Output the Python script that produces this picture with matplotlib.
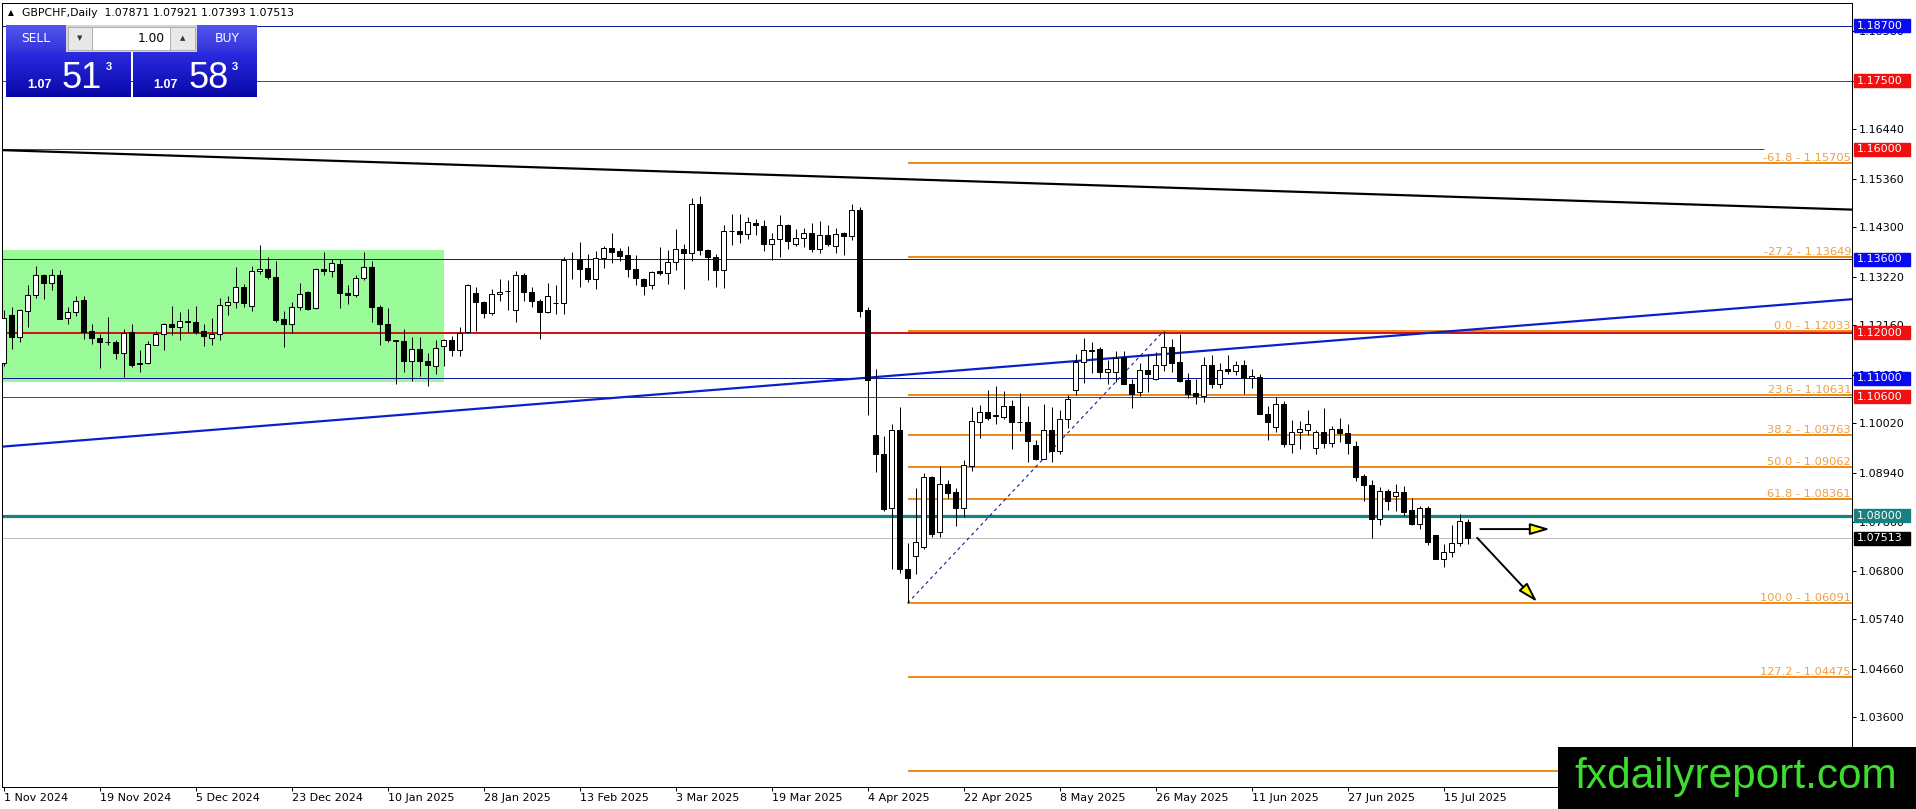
import numpy as np
import matplotlib
matplotlib.use("Agg")
import matplotlib.pyplot as plt
from matplotlib.patches import Rectangle

# GBPCHF daily candles, 1 Nov 2024 .. 18 Jul 2025
opens = [
    1.1133, 1.1239, 1.1190, 1.1247, 1.1282, 1.1326, 1.1308, 1.1325, 1.1232, 1.1245,
    1.1271, 1.1204, 1.1188, 1.1180, 1.1180, 1.1155, 1.1201, 1.1134, 1.1133, 1.1173,
    1.1197, 1.1218, 1.1212, 1.1226, 1.1224, 1.1203, 1.1188, 1.1197, 1.1261, 1.1266,
    1.1300, 1.1259, 1.1334, 1.1339, 1.1322, 1.1230, 1.1219, 1.1255, 1.1288, 1.1254,
    1.1339, 1.1335, 1.1350, 1.1287, 1.1282, 1.1319, 1.1344, 1.1257, 1.1219, 1.1183,
    1.1181, 1.1137, 1.1164, 1.1139, 1.1128, 1.1170, 1.1184, 1.1161, 1.1201, 1.1287,
    1.1266, 1.1243, 1.1284, 1.1290, 1.1250, 1.1326, 1.1288, 1.1270, 1.1244, 1.1264,
    1.1264, 1.1360, 1.1361, 1.1341, 1.1317, 1.1363, 1.1385, 1.1379, 1.1370, 1.1339,
    1.1317, 1.1304, 1.1334, 1.1330, 1.1355, 1.1383, 1.1373, 1.1481, 1.1381, 1.1365,
    1.1337, 1.1421, 1.1423, 1.1416, 1.1440, 1.1432, 1.1394, 1.1405, 1.1434, 1.1394,
    1.1407, 1.1418, 1.1383, 1.1414, 1.1390, 1.1417, 1.1412, 1.1468, 1.1249, 1.0976,
    1.0935, 1.0818, 1.0987, 1.0683, 1.0713, 1.0731, 1.0885, 1.0764, 1.0869, 1.0851,
    1.0818, 1.0909, 1.1004, 1.1026, 1.1021, 1.1016, 1.1040, 1.1005, 1.1005, 1.0954,
    1.0925, 1.0987, 1.0942, 1.1011, 1.1074, 1.1135, 1.1163, 1.1164, 1.1114, 1.1113,
    1.1146, 1.1087, 1.1071, 1.1118, 1.1098, 1.1130, 1.1168, 1.1136, 1.1096, 1.1069,
    1.1061, 1.1130, 1.1087, 1.1120, 1.1116, 1.1130, 1.1100, 1.1104, 1.1022, 1.0994,
    1.1045, 1.0956, 1.0982, 1.0988, 1.0949, 1.0983, 1.0958, 1.0990, 1.0980, 1.0952,
    1.0886, 1.0868, 1.0792, 1.0854, 1.0843, 1.0851, 1.0812, 1.0783, 1.0818, 1.0757,
    1.0706, 1.0721, 1.0741, 1.07871,
]
highs = [
    1.1250, 1.1255, 1.1252, 1.1303, 1.1346, 1.1328, 1.1338, 1.1336, 1.1257, 1.1279,
    1.1279, 1.1219, 1.1197, 1.1235, 1.1184, 1.1208, 1.1219, 1.1161, 1.1182, 1.1203,
    1.1222, 1.1259, 1.1246, 1.1252, 1.1259, 1.1219, 1.1232, 1.1276, 1.1281, 1.1344,
    1.1306, 1.1346, 1.1392, 1.1366, 1.1356, 1.1248, 1.1266, 1.1309, 1.1290, 1.1341,
    1.1376, 1.1361, 1.1361, 1.1303, 1.1325, 1.1376, 1.1357, 1.1261, 1.1253, 1.1184,
    1.1208, 1.1191, 1.1190, 1.1156, 1.1183, 1.1186, 1.1193, 1.1212, 1.1306, 1.1299,
    1.1270, 1.1295, 1.1317, 1.1314, 1.1335, 1.1330, 1.1299, 1.1274, 1.1308, 1.1304,
    1.1366, 1.1377, 1.1397, 1.1372, 1.1379, 1.1390, 1.1418, 1.1385, 1.1390, 1.1370,
    1.1319, 1.1335, 1.1388, 1.1381, 1.1426, 1.1394, 1.1494, 1.1499, 1.1383, 1.1372,
    1.1434, 1.1459, 1.1459, 1.1453, 1.1448, 1.1445, 1.1418, 1.1456, 1.1437, 1.1426,
    1.1428, 1.1440, 1.1443, 1.1435, 1.1429, 1.1419, 1.1481, 1.1474, 1.1257, 1.1120,
    1.0974, 1.1000, 1.1037, 1.0741, 1.0860, 1.0894, 1.0887, 1.0909, 1.0879, 1.0861,
    1.0922, 1.1037, 1.1042, 1.1074, 1.1083, 1.1073, 1.1053, 1.1069, 1.1039, 1.0965,
    1.1044, 1.1037, 1.1031, 1.1064, 1.1154, 1.1189, 1.1180, 1.1168, 1.1140, 1.1160,
    1.1160, 1.1098, 1.1133, 1.1153, 1.1158, 1.12033, 1.1185, 1.1198, 1.1111, 1.1098,
    1.1146, 1.1151, 1.1133, 1.1151, 1.1138, 1.1140, 1.1120, 1.1109, 1.1040, 1.1060,
    1.1051, 1.1010, 1.1007, 1.1032, 1.0988, 1.1036, 1.0996, 1.1014, 1.1001, 1.0963,
    1.0892, 1.0879, 1.0862, 1.0859, 1.0870, 1.0865, 1.0838, 1.0821, 1.0821, 1.0757,
    1.0738, 1.0779, 1.0803, 1.07921,
]
lows = [
    1.1128, 1.1164, 1.1179, 1.1213, 1.1276, 1.1274, 1.1292, 1.1229, 1.1219, 1.1237,
    1.1186, 1.1175, 1.1122, 1.1172, 1.1143, 1.1103, 1.1124, 1.1113, 1.1132, 1.1172,
    1.1161, 1.1194, 1.1184, 1.1201, 1.1197, 1.1170, 1.1172, 1.1184, 1.1239, 1.1253,
    1.1255, 1.1247, 1.1328, 1.1317, 1.1224, 1.1168, 1.1199, 1.1250, 1.1250, 1.1252,
    1.1325, 1.1321, 1.1254, 1.1263, 1.1277, 1.1314, 1.1223, 1.1172, 1.1179, 1.1088,
    1.1113, 1.1095, 1.1106, 1.1084, 1.1110, 1.1128, 1.1148, 1.1150, 1.1200, 1.1204,
    1.1233, 1.1239, 1.1268, 1.1250, 1.1223, 1.1270, 1.1257, 1.1185, 1.1242, 1.1241,
    1.1241, 1.1317, 1.1300, 1.1310, 1.1295, 1.1341, 1.1351, 1.1357, 1.1321, 1.1304,
    1.1282, 1.1295, 1.1325, 1.1306, 1.1337, 1.1295, 1.1357, 1.1370, 1.1315, 1.1299,
    1.1298, 1.1392, 1.1395, 1.1405, 1.1414, 1.1379, 1.1359, 1.1365, 1.1383, 1.1389,
    1.1386, 1.1375, 1.1373, 1.1390, 1.1373, 1.1370, 1.1402, 1.1234, 1.1020, 1.0896,
    1.0811, 1.0683, 1.0676, 1.06091, 1.0674, 1.0728, 1.0754, 1.0754, 1.0838, 1.0778,
    1.0798, 1.0898, 1.0969, 1.1010, 1.1000, 1.1011, 1.0946, 1.0985, 1.0918, 1.0922,
    1.0925, 1.0918, 1.0935, 1.0991, 1.1064, 1.1089, 1.1112, 1.1098, 1.1087, 1.1093,
    1.1087, 1.1036, 1.1061, 1.1071, 1.1096, 1.1116, 1.1114, 1.1093, 1.1058, 1.1045,
    1.1048, 1.1080, 1.1080, 1.1109, 1.1107, 1.1065, 1.1078, 1.1022, 1.0965, 1.0983,
    1.0950, 1.0937, 1.0945, 1.0976, 1.0936, 1.0949, 1.0950, 1.0961, 1.0936, 1.0875,
    1.0832, 1.0752, 1.0779, 1.0812, 1.0811, 1.0799, 1.0781, 1.0772, 1.0736, 1.0706,
    1.0688, 1.0710, 1.0734, 1.07393,
]
closes = [
    1.1232, 1.1190, 1.1250, 1.1283, 1.1325, 1.1308, 1.1325, 1.1230, 1.1246, 1.1270,
    1.1201, 1.1188, 1.1179, 1.1179, 1.1155, 1.1199, 1.1130, 1.1131, 1.1175, 1.1197,
    1.1219, 1.1212, 1.1226, 1.1223, 1.1201, 1.1192, 1.1197, 1.1261, 1.1266, 1.1299,
    1.1264, 1.1334, 1.1339, 1.1321, 1.1228, 1.1219, 1.1255, 1.1285, 1.1252, 1.1339,
    1.1335, 1.1352, 1.1287, 1.1283, 1.1319, 1.1343, 1.1257, 1.1219, 1.1184, 1.1182,
    1.1137, 1.1164, 1.1137, 1.1130, 1.1166, 1.1184, 1.1161, 1.1199, 1.1304, 1.1266,
    1.1243, 1.1284, 1.1288, 1.1290, 1.1326, 1.1288, 1.1268, 1.1244, 1.1279, 1.1264,
    1.1359, 1.1361, 1.1339, 1.1317, 1.1363, 1.1385, 1.1375, 1.1368, 1.1339, 1.1319,
    1.1301, 1.1333, 1.1330, 1.1355, 1.1383, 1.1373, 1.1481, 1.1381, 1.1365, 1.1337,
    1.1421, 1.1423, 1.1416, 1.1441, 1.1434, 1.1394, 1.1405, 1.1434, 1.1401, 1.1407,
    1.1418, 1.1383, 1.1414, 1.1394, 1.1416, 1.1412, 1.1468, 1.1248, 1.1096, 1.0935,
    1.0815, 1.0987, 1.0683, 1.0665, 1.0742, 1.0885, 1.0761, 1.0869, 1.0849, 1.0818,
    1.0911, 1.1007, 1.1026, 1.1014, 1.1018, 1.1040, 1.1005, 1.1005, 1.0964, 1.0924,
    1.0987, 1.0941, 1.1011, 1.1056, 1.1136, 1.1162, 1.1160, 1.1114, 1.1120, 1.1144,
    1.1087, 1.1066, 1.1118, 1.1109, 1.1130, 1.1168, 1.1134, 1.1095, 1.1065, 1.1061,
    1.1130, 1.1087, 1.1118, 1.1117, 1.1130, 1.1100, 1.1105, 1.1022, 1.1005, 1.1044,
    1.0956, 1.0982, 1.0990, 1.1001, 1.0983, 1.0958, 1.0990, 1.0980, 1.0958, 1.0885,
    1.0868, 1.0792, 1.0854, 1.0832, 1.0851, 1.0808, 1.0783, 1.0818, 1.0743, 1.0706,
    1.0721, 1.0741, 1.0788, 1.07513,
]

date_labels = [
    "1 Nov 2024", "19 Nov 2024", "5 Dec 2024", "23 Dec 2024", "10 Jan 2025",
    "28 Jan 2025", "13 Feb 2025", "3 Mar 2025", "19 Mar 2025", "4 Apr 2025",
    "22 Apr 2025", "8 May 2025", "26 May 2025", "11 Jun 2025", "27 Jun 2025",
    "15 Jul 2025",
]
bars_per_label = 12

price_ticks = [1.18580, 1.17500, 1.16440, 1.15360, 1.14300, 1.13220, 1.12160,
               1.11080, 1.10020, 1.08940, 1.07860, 1.06800, 1.05740, 1.04660, 1.03600]

level_prices = [1.18700, 1.17500, 1.16000, 1.13600, 1.12000, 1.11000, 1.10600, 1.08000]
fib_ratios = [-61.8, -27.2, 0.0, 23.6, 38.2, 50.0, 61.8, 100.0, 127.2, 161.8]
fib_prices = [1.15705, 1.13649, 1.12033, 1.10631, 1.09763, 1.09062, 1.08361,
              1.06091, 1.04475, 1.02419]
fib_low_bar, fib_high_bar = 113, 145

range_box = (1.10928, 1.13804)   # green consolidation zone, ends at bar 55
range_box_end = 55
blue_trend = (1.0951, 1.1273)    # price at left / right edge
black_trend = (1.15985, 1.14686)
red_1160_end = 220
bid, ask = 1.07513, 1.07583

# ---------------------------------------------------------------
W, H, DPI = 1916, 809, 100
PX = 72 / DPI  # points per pixel
plt.rcParams["font.family"] = ["DejaVu Sans"]

fig = plt.figure(figsize=(W / DPI, H / DPI), dpi=DPI)
fig.patch.set_facecolor("white")
AX_L, AX_R, AX_T, AX_B = 2, 1852, 3, 787
ax = fig.add_axes([AX_L / W, 1 - AX_B / H, (AX_R - AX_L) / W, (AX_B - AX_T) / H])
x_min, x_max = -0.19, 231.06
y_min, y_max = 1.02078, 1.19198
ax.set_xlim(x_min, x_max)
ax.set_ylim(y_min, y_max)
price_per_px = (y_max - y_min) / (AX_B - AX_T)


def ax_frac(xpx):
    return (xpx - AX_L) / (AX_R - AX_L)


yx = ax.get_yaxis_transform()

# green range
ax.add_patch(Rectangle((x_min, range_box[0]), range_box_end - x_min,
                       range_box[1] - range_box[0], color="#98FB98", lw=0, zorder=0.5))

# horizontal levels
level_colors = ["#0A1A9A", "#D01515", "#D01515", "#0A1A9A", "#D01515", "#0A1A9A", "#D01515", "#178080"]
level_widths = [1, 1, 1, 1, 2, 1, 1, 3.2]
box_colors = ["#0A0AF0", "#F01010", "#F01010", "#0A0AF0", "#F01010", "#0A0AF0", "#F01010", "#178080"]
for p, c, w in zip(level_prices, level_colors, level_widths):
    x_end = red_1160_end if p == 1.16 else x_max
    ax.hlines(p, x_min, x_end, color=c, lw=w * PX, zorder=1)
ax.axhline(bid, color="#BEBEBE", lw=PX, zorder=1)

# fibonacci (the 161.8 label sits behind the watermark in the original)
ax.hlines(fib_prices, fib_low_bar, x_max, color="#F08A1A", lw=2 * PX, zorder=1.2)
for r, p in zip(fib_ratios, fib_prices):
    if r > 150:
        continue
    ax.text(ax_frac(1851), p, f"{r:.1f} - {p:.5f}", transform=yx, ha="right", va="bottom",
            color="#EFA040", fontsize=8.2, zorder=5)
ax.plot([fib_low_bar, fib_high_bar], [lows[fib_low_bar], highs[fib_high_bar]],
        color="#1A1A90", lw=0.8, dashes=(3, 3), zorder=1.3)

# trend lines
ax.plot([x_min, x_max], blue_trend, color="#0A1ECC", lw=2.2 * PX, zorder=1.4)
ax.plot([x_min, x_max], black_trend, color="black", lw=2.2 * PX, zorder=1.4)

# candles
o, h, l, c = map(np.array, (opens, highs, lows, closes))
x = np.arange(len(o))
up = c >= o
ax.vlines(x, l, h, color="black", lw=PX, zorder=3)
body_lo = np.minimum(o, c)
body_h = np.abs(c - o)
ax.bar(x[up], body_h[up], bottom=body_lo[up], width=0.55, facecolor="white",
       edgecolor="black", linewidth=PX, zorder=4)
ax.bar(x[~up], body_h[~up], bottom=body_lo[~up], width=0.55, facecolor="black",
       edgecolor="black", linewidth=PX, zorder=4)

# arrows
arrow_kw = dict(arrowstyle="-|>,head_length=1.2,head_width=0.35", fc="#FFFF00", ec="black",
                lw=1.4, shrinkA=0, shrinkB=0)
ax.annotate("", xy=(193.3, 1.0771), xytext=(184.6, 1.0771), arrowprops=arrow_kw, zorder=6)
ax.annotate("", xy=(191.7, 1.0612), xytext=(184.2, 1.0752), arrowprops=arrow_kw, zorder=6)

# axes styling
for s in ax.spines.values():
    s.set_linewidth(PX)
    s.set_color("black")
ax.yaxis.tick_right()
ax.set_yticks(price_ticks)
ax.set_yticklabels([f"{v:.5f}" for v in price_ticks])
ax.tick_params(axis="y", direction="out", length=4 * PX, width=PX, pad=3 * PX, labelsize=8)
ax.set_xticks(np.arange(len(date_labels)) * bars_per_label)
ax.set_xticklabels(date_labels, ha="left")
ax.tick_params(axis="x", direction="out", length=4 * PX, width=PX, pad=2 * PX, labelsize=8)

# price boxes on the right scale
half = 6.5 * price_per_px
for p, col in zip(level_prices + [bid], box_colors + ["black"]):
    ax.add_patch(Rectangle((ax_frac(1854), p - half), 56 / (AX_R - AX_L), 2 * half,
                           transform=yx, color=col, clip_on=False, zorder=6))
    ax.text(ax_frac(1857), p, f"{p:.5f}", transform=yx, color="white", fontsize=8,
            va="center", ha="left", clip_on=False, zorder=7)


# ---- header and trade panel (figure pixels, origin top-left)
def fig_rect(x0, y0, x1, y1, color, ec="none", z=4):
    fig.add_artist(Rectangle((x0 / W, 1 - y1 / H), (x1 - x0) / W, (y1 - y0) / H,
                             transform=fig.transFigure, facecolor=color, edgecolor=ec,
                             lw=PX, zorder=z))


def fig_grad(x0, y0, x1, y1, c_top, c_bot):
    t = np.linspace(0, 1, y1 - y0)[:, None, None]
    arr = (1 - t) * np.array(c_top) + t * np.array(c_bot)
    arr = np.broadcast_to(arr, (y1 - y0, x1 - x0, 3)).copy()
    fig.figimage(arr, xo=x0, yo=H - y1, origin="upper", zorder=4)


def fig_txt(xp, yp, s, **kw):
    kw.setdefault("zorder", 10)
    fig.text(xp / W, 1 - yp / H, s, **kw)


fig_txt(8, 13, "\u25B2", fontsize=5.5, va="center")
fig_txt(22, 13, f"GBPCHF,Daily  {opens[-1]:.5f} {highs[-1]:.5f} {lows[-1]:.5f} {closes[-1]:.5f}",
        fontsize=7.8, va="center")

fig_grad(6, 25, 66, 52, (0.33, 0.33, 0.93), (0.20, 0.20, 0.86))
fig_grad(197, 25, 257, 52, (0.33, 0.33, 0.93), (0.20, 0.20, 0.86))
fig_grad(6, 52, 131, 97, (0.17, 0.17, 0.88), (0.03, 0.03, 0.66))
fig_grad(133, 52, 257, 97, (0.17, 0.17, 0.88), (0.03, 0.03, 0.66))
fig_rect(66, 25, 197, 52, "#D4D4D4", z=5)
fig_rect(68, 27, 92, 50, "#E8E8E8", ec="#B0B0B0", z=6)
fig_rect(92, 27, 170, 50, "white", ec="#B0B0B0", z=6)
fig_rect(170, 27, 195, 50, "#E8E8E8", ec="#B0B0B0", z=6)
fig_txt(35.5, 38.5, "SELL", color="white", fontsize=8.8, ha="center", va="center")
fig_txt(227, 38.5, "BUY", color="white", fontsize=8.8, ha="center", va="center")
fig_txt(80, 38.5, "\u25BC", fontsize=5, ha="center", va="center", color="#333333")
fig_txt(182.5, 38.5, "\u25B2", fontsize=5, ha="center", va="center", color="#333333")
fig_txt(165, 38.5, "1.00", fontsize=8.8, ha="right", va="center")

for px0, price in ((27, bid), (153, ask)):
    s = f"{price:.5f}"
    fig_txt(px0, 88, s[:4], color="white", fontsize=9, fontweight="bold",
            family="Liberation Sans", va="baseline")
    fig_txt(px0 + 35, 88, s[4:6], color="white", fontsize=26,
            family="Liberation Sans", va="baseline")
    fig_txt(px0 + 79, 62, s[6], color="white", fontsize=8, fontweight="bold",
            family="Liberation Sans", va="top")

# watermark
fig_rect(1558, 747, 1916, 809, "black", z=8)
fig_txt(1736, 777, "fxdailyreport.com", color="#3DDC2E", fontsize=30.5,
        family="Liberation Sans", ha="center", va="center", zorder=11)

fig.savefig("out.png", dpi=DPI)
